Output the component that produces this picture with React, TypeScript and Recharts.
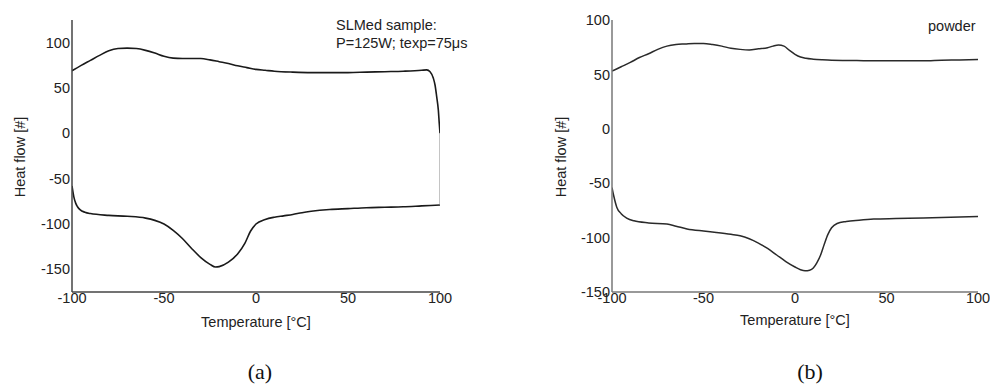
import { LineChart, Line, XAxis, YAxis } from 'recharts';

// SLMed sample (a): upper and lower branches of the loop
const slmUpperT = [-100, -95, -90, -85, -80, -75, -70, -65, -60, -55, -50, -45, -40, -35, -30, -25, -20, -15, -10, -5, 0, 5, 10, 20, 30, 40, 50, 60, 70, 80, 90, 92.8, 94.6, 96.4, 97.3, 98.2, 99.1, 99.6, 100];
const slmUpperHF = [69, 75, 80.5, 86, 91, 93.5, 94, 93.5, 91.5, 88.5, 85, 83, 82.5, 82.5, 82.5, 81, 79, 77, 74.5, 72.5, 70.5, 69.5, 68.5, 67.5, 67, 67, 67, 67.5, 68, 68.5, 69.5, 70, 68, 60.7, 53.3, 40.4, 25.6, 10.8, 0];

const slmLowerT = [-100, -99, -98, -97, -95.5, -93, -90, -80, -70, -60, -55, -50, -45, -40, -35, -30, -25, -22, -20, -15, -10, -6, -3, 0, 5, 10, 15, 20, 25, 30, 40, 50, 60, 70, 80, 90, 100];
const slmLowerHF = [-58, -70, -77, -81, -84.5, -87, -88.5, -90.5, -91.5, -93.5, -96, -100, -107, -116, -127, -137, -144.5, -147.5, -147, -142, -133, -121, -108, -100, -95, -92.5, -91, -89.5, -87.5, -86, -84, -83, -82, -81.5, -81, -80, -79];

const slmCloseT = [100, 100];
const slmCloseHF = [0, -79];

// powder (b)
const powderUpperT = [-100, -95, -90, -85, -80, -75, -70, -65, -60, -55, -50, -45, -40, -35, -30, -25, -20, -15, -12, -9, -6, -3, 0, 3, 6, 10, 15, 20, 30, 40, 50, 60, 70, 80, 90, 100];
const powderUpperHF = [53, 57, 61, 65.5, 69, 73, 76, 77.5, 78, 78.5, 78.5, 77.5, 76, 74, 73, 72.5, 73.5, 74.5, 76, 77, 76, 72, 68.5, 66, 64.8, 64, 63.4, 63, 62.8, 62.5, 62.5, 62.5, 62.5, 63, 63.3, 63.7];

const powderLowerT = [-100, -99, -97.4, -95, -92, -88, -80, -70, -65, -59, -50, -43, -35, -30, -25, -20, -15, -10, -5, 0, 3, 5.5, 8, 10, 12, 14, 16, 18, 20, 23, 28, 35, 43, 55, 70, 85, 100];
const powderLowerHF = [-54, -62, -72, -78, -82, -84.6, -86.5, -87.6, -89.5, -92, -94, -95.3, -97, -98.3, -101, -105, -110, -116, -122, -127, -129.5, -130.5, -130, -128, -123, -116, -106, -97, -91, -87, -85.2, -84, -83, -82.5, -82, -81.3, -80.6];

const xTicks = [-100, -50, 0, 50, 100];
const slmYTicks = [-150, -100, -50, 0, 50, 100];
const powderYTicks = [-150, -100, -50, 0, 50, 100];

const toPoints = (t: number[], hf: number[]) => t.map((v, i) => ({ t: v, hf: hf[i] }));

const sans = '"Liberation Sans", Arial, sans-serif';
const serif = '"Liberation Serif", "Times New Roman", serif';
const fs = 14.5;
const tickStyle = { fontSize: fs, fill: '#222', fontFamily: sans };

export default function App() {
  return (
    <div style={{ position: 'absolute', left: 0, top: 0, width: 990, height: 385, background: '#fff' }}>
      <div style={{ position: 'absolute', left: 0, top: 0 }}>
        <LineChart width={500} height={385} margin={{ top: 20, right: 60, bottom: 63, left: 32 }}>
          <XAxis
            type="number"
            dataKey="t"
            domain={[-100, 100]}
            ticks={xTicks}
            allowDataOverflow
            tickLine={false}
            tickSize={0}
            tickMargin={1}
            axisLine={{ stroke: '#444', strokeWidth: 1.5 }}
            tick={tickStyle}
          />
          <YAxis
            type="number"
            dataKey="hf"
            width={40}
            domain={[-175, 125]}
            ticks={slmYTicks}
            allowDataOverflow
            tickLine={false}
            tickSize={0}
            tickMargin={2}
            axisLine={{ stroke: '#444', strokeWidth: 1.5 }}
            tick={tickStyle}
          />
          <Line data={toPoints(slmUpperT, slmUpperHF)} dataKey="hf" type="monotone" stroke="#1a1a1a" strokeWidth={1.6} dot={false} isAnimationActive={false} />
          <Line data={toPoints(slmLowerT, slmLowerHF)} dataKey="hf" type="monotone" stroke="#1a1a1a" strokeWidth={1.6} dot={false} isAnimationActive={false} />
          <Line data={toPoints(slmCloseT, slmCloseHF)} dataKey="hf" type="linear" stroke="#888" strokeWidth={1} dot={false} isAnimationActive={false} />
          <text x={20} y={157} transform="rotate(-90, 20, 157)" textAnchor="middle" dominantBaseline="central" fontSize={fs} fontFamily={sans} fill="#222">Heat flow [#]</text>
          <text x={256} y={327} textAnchor="middle" fontSize={fs} fontFamily={sans} fill="#222">Temperature [°C]</text>
          <text x={336} y={30} fontSize={fs} fontFamily={sans} fill="#222">SLMed sample:</text>
          <text x={336} y={48} fontSize={fs} fontFamily={sans} fill="#222">P=125W; texp=75μs</text>
          <text x={260} y={379} textAnchor="middle" fontSize={22} fontFamily={serif} fill="#111">(a)</text>
        </LineChart>
      </div>
      <div style={{ position: 'absolute', left: 510, top: 0 }}>
        <LineChart width={480} height={385} margin={{ top: 20, right: 12, bottom: 63, left: 62 }}>
          <XAxis
            type="number"
            dataKey="t"
            domain={[-100, 100]}
            ticks={xTicks}
            allowDataOverflow
            tickLine={false}
            tickSize={0}
            tickMargin={1}
            axisLine={{ stroke: '#777', strokeWidth: 1.5 }}
            tick={tickStyle}
          />
          <YAxis
            type="number"
            dataKey="hf"
            width={40}
            domain={[-150, 100]}
            ticks={powderYTicks}
            allowDataOverflow
            tickLine={false}
            tickSize={0}
            tickMargin={2}
            axisLine={{ stroke: '#777', strokeWidth: 1.5 }}
            tick={tickStyle}
          />
          <Line data={toPoints(powderUpperT, powderUpperHF)} dataKey="hf" type="monotone" stroke="#2a2a2a" strokeWidth={1.5} dot={false} isAnimationActive={false} />
          <Line data={toPoints(powderLowerT, powderLowerHF)} dataKey="hf" type="monotone" stroke="#2a2a2a" strokeWidth={1.5} dot={false} isAnimationActive={false} />
          <text x={51} y={157} transform="rotate(-90, 51, 157)" textAnchor="middle" dominantBaseline="central" fontSize={fs} fontFamily={sans} fill="#222">Heat flow [#]</text>
          <text x={285} y={325} textAnchor="middle" fontSize={fs} fontFamily={sans} fill="#222">Temperature [°C]</text>
          <text x={418} y={31} fontSize={fs} fontFamily={sans} fill="#222">powder</text>
          <text x={300} y={379} textAnchor="middle" fontSize={22} fontFamily={serif} fill="#111">(b)</text>
        </LineChart>
      </div>
    </div>
  );
}
